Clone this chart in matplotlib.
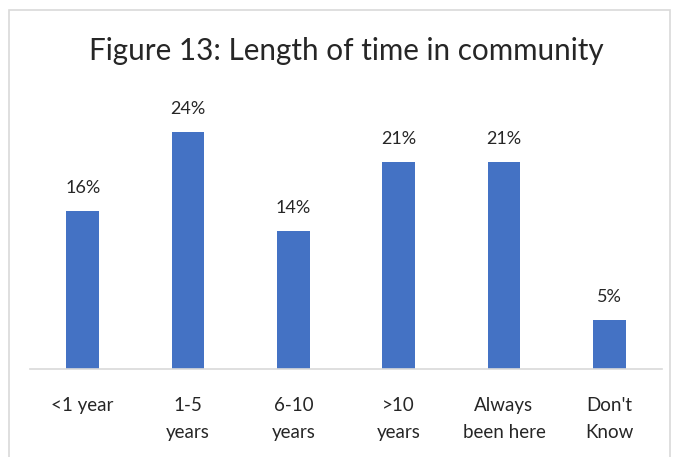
import numpy as np
import matplotlib
matplotlib.use('Agg')
import matplotlib.pyplot as plt
from matplotlib.patches import Rectangle

categories = ['<1 year', '1-5\nyears', '6-10\nyears', '>10\nyears', 'Always\nbeen here', "Don't\nKnow"]
values = [16, 24, 14, 21, 21, 5]

plt.rcParams['font.family'] = ['Lato', 'DejaVu Sans']

fig = plt.figure(figsize=(6.77, 4.57), dpi=100)
ax = fig.add_axes([30/677, 1 - 369/457, 632/677, (369 - 92.5)/457])

x = np.arange(len(categories))
bars = ax.bar(x, values, width=0.31, color='#4472C4')
for xi, v in zip(x, values):
    ax.text(xi, v + 1.5, f'{v}%', ha='center', va='bottom', fontsize=13, color='#262626')

ax.set_xlim(-0.5, len(categories) - 0.5)
ax.set_ylim(0, 28)
ax.set_xticks(x)
ax.set_xticklabels(categories, fontsize=13.5, color='#262626', linespacing=1.7)
ax.tick_params(axis='x', length=0, pad=20)
ax.set_yticks([])
for s in ['top', 'right', 'left']:
    ax.spines[s].set_visible(False)
ax.spines['bottom'].set_color('#d9d9d9')
ax.spines['bottom'].set_linewidth(1.2)

fig.text(346/677, 1 - 51/457, 'Figure 13: Length of time in community',
         ha='center', va='center', fontsize=21.3, color='#262626')

fig.patches.append(Rectangle((9/677, -0.1), 661/677, 1.1 - 10/457, transform=fig.transFigure,
                             fill=False, edgecolor='#d9d9d9', linewidth=1.2, clip_on=False))

fig.savefig('out.png', dpi=100)
